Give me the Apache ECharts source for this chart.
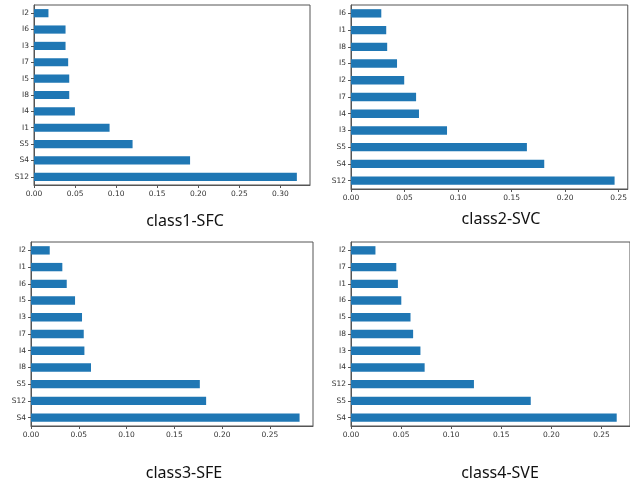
<!DOCTYPE html>
<html>
<head>
<meta charset="utf-8">
<script src="https://cdn.jsdelivr.net/npm/echarts@6/dist/echarts.min.js"></script>
<style>
  html, body { margin: 0; padding: 0; background: #ffffff; }
  #chart { width: 630px; height: 489px; }
</style>
</head>
<body>
<div id="chart"></div>
<script>
// Feature importances per classifier, listed bottom-to-top as drawn on the y axis.
const class1Features = ['S12', 'S4', 'S5', 'I1', 'I4', 'I8', 'I5', 'I7', 'I3', 'I6', 'I2'];
const class1Values   = [0.320, 0.190, 0.120, 0.092, 0.0498, 0.0429, 0.0429, 0.0416, 0.0384, 0.0384, 0.0176];

const class2Features = ['S12', 'S4', 'S5', 'I3', 'I4', 'I7', 'I2', 'I5', 'I8', 'I1', 'I6'];
const class2Values   = [0.2462, 0.1805, 0.1643, 0.0897, 0.0635, 0.0608, 0.0497, 0.0430, 0.0338, 0.0329, 0.0283];

const class3Features = ['S4', 'S12', 'S5', 'I8', 'I4', 'I7', 'I3', 'I5', 'I6', 'I1', 'I2'];
const class3Values   = [0.2811, 0.1833, 0.1767, 0.0628, 0.0559, 0.0552, 0.0534, 0.0461, 0.0374, 0.0328, 0.0196];

const class4Features = ['S4', 'S5', 'S12', 'I4', 'I3', 'I8', 'I5', 'I6', 'I1', 'I7', 'I2'];
const class4Values   = [0.2652, 0.1794, 0.1227, 0.0735, 0.0693, 0.0620, 0.0594, 0.0502, 0.0468, 0.0452, 0.0244];

const panelTitles = ['class1-SFC', 'class2-SVC', 'class3-SFE', 'class4-SVE'];

const xTicks1 = [0, 0.05, 0.10, 0.15, 0.20, 0.25, 0.30];
const xTicks2 = [0, 0.05, 0.10, 0.15, 0.20, 0.25];

const BAR = '#1f77b4';
const INK = '#333333';
const FRAME = '#555555';
const TICK_FONT = 'DejaVu Sans';

const panels = [
  { cats: class1Features, vals: class1Values, ticks: xTicks1,
    grid: { left: 34, top: 5, width: 276, height: 180 }, title: [180, 208] },
  { cats: class2Features, vals: class2Values, ticks: xTicks2,
    grid: { left: 351, top: 5, width: 281, height: 184 }, title: [496, 206] },
  { cats: class3Features, vals: class3Values, ticks: xTicks2,
    grid: { left: 31, top: 242, width: 282, height: 184 }, title: [179, 460] },
  { cats: class4Features, vals: class4Values, ticks: xTicks2,
    grid: { left: 351, top: 242, width: 281, height: 184 }, title: [495, 460] }
];

const chart = echarts.init(document.getElementById('chart'), null, { renderer: 'canvas' });

const option = {
  animation: false,
  backgroundColor: '#ffffff',
  title: panels.map((p, i) => ({
    text: panelTitles[i],
    left: p.title[0],
    top: p.title[1],
    textAlign: 'center',
    textStyle: { fontFamily: 'Noto Sans', fontSize: 16, fontWeight: 'normal', color: '#111111' }
  })),
  grid: panels.map(p => Object.assign({
    show: true, borderColor: FRAME, borderWidth: 1, backgroundColor: 'transparent',
    containLabel: false
  }, p.grid)),
  xAxis: panels.map((p, i) => ({
    type: 'value',
    gridIndex: i,
    min: 0,
    // axis extends 5% past the longest bar
    max: Math.max(...p.vals) * 1.05,
    splitLine: { show: false },
    axisLine: { show: true, lineStyle: { color: FRAME, width: 1 } },
    axisTick: { show: true, length: 3, lineStyle: { color: FRAME }, customValues: p.ticks },
    axisLabel: {
      customValues: p.ticks,
      formatter: v => v.toFixed(2),
      fontFamily: TICK_FONT, fontSize: 7.5, color: INK, margin: 5
    }
  })),
  yAxis: panels.map((p, i) => ({
    type: 'category',
    gridIndex: i,
    data: p.cats,
    axisLine: { show: true, lineStyle: { color: FRAME, width: 1 } },
    axisTick: { show: true, length: 3, alignWithLabel: true, lineStyle: { color: FRAME } },
    axisLabel: { fontFamily: TICK_FONT, fontSize: 7.5, color: INK, margin: 5 },
    splitLine: { show: false }
  })),
  series: panels.map((p, i) => ({
    type: 'bar',
    xAxisIndex: i,
    yAxisIndex: i,
    data: p.vals,
    barWidth: '50%',
    itemStyle: { color: BAR }
  }))
};

chart.setOption(option);
</script>
</body>
</html>
